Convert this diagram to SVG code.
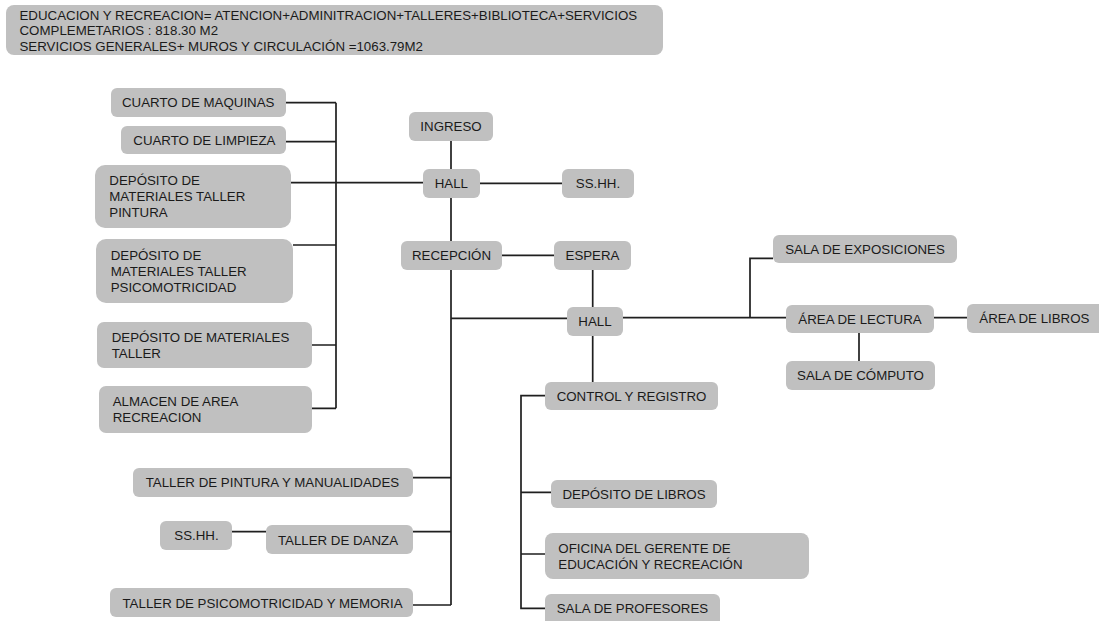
<svg xmlns="http://www.w3.org/2000/svg" width="1099" height="621" viewBox="0 0 1099 621">
<style>
.b{fill:#c0c0c0;stroke:none}
.t{font-family:"Liberation Sans",Arial,sans-serif;font-size:13.3px;fill:#1a1a1a}
.c{text-anchor:middle}
.ln{stroke:#1f1f1f;stroke-width:1.7;fill:none}
</style>
<rect width="1099" height="621" fill="#ffffff"/>
<g id="connectors">
<path class="ln" d="M286 102.7H336M286 141.7H336M293 245H336M312 345H336M312 408.3H336M336 102.7V408.3"/>
<path class="ln" d="M291 182.7H423"/>
<path class="ln" d="M451 141V605"/>
<path class="ln" d="M480 183.3H562"/>
<path class="ln" d="M502 255.3H554"/>
<path class="ln" d="M592.7 270V307"/>
<path class="ln" d="M451 318.3H567"/>
<path class="ln" d="M623 317.7H786M750 317.7V258.3H773"/>
<path class="ln" d="M934 317.7H967"/>
<path class="ln" d="M859 333V361"/>
<path class="ln" d="M592.7 336V382"/>
<path class="ln" d="M545 395.7H521V608.3H545M521 492.3H551M521 554H545"/>
<path class="ln" d="M413 477.7H451M413 531.7H451M413 605H451"/>
<path class="ln" d="M232 531.7H266"/>
</g>
<g id="header"><rect class="b" x="6" y="5" width="657" height="50" rx="8"/>
<text class="t" x="19.5" y="20">EDUCACION Y RECREACION= ATENCION+ADMINITRACION+TALLERES+BIBLIOTECA+SERVICIOS</text>
<text class="t" x="19.5" y="35.4">COMPLEMETARIOS : 818.30 M2</text>
<text class="t" x="19.5" y="50.6">SERVICIOS GENERALES+ MUROS Y CIRCULACIÓN =1063.79M2</text></g>
<g id="cuarto-maquinas"><rect class="b" x="111" y="88" width="175" height="29" rx="6"/><text class="t" x="122" y="107.3">CUARTO DE MAQUINAS</text></g>
<g id="cuarto-limpieza"><rect class="b" x="121" y="126" width="165" height="28" rx="6"/><text class="t" x="133.3" y="144.8">CUARTO DE LIMPIEZA</text></g>
<g id="deposito-pintura"><rect class="b" x="95" y="165" width="196" height="63" rx="10"/><text class="t" x="109.3" y="185.3">DEPÓSITO DE</text><text class="t" x="109.3" y="201.3">MATERIALES TALLER</text><text class="t" x="109.3" y="217.3">PINTURA</text></g>
<g id="deposito-psico"><rect class="b" x="96" y="239" width="197" height="64" rx="10"/><text class="t" x="110.7" y="259.8">DEPÓSITO DE</text><text class="t" x="110.7" y="275.8">MATERIALES TALLER</text><text class="t" x="110.7" y="291.8">PSICOMOTRICIDAD</text></g>
<g id="deposito-taller"><rect class="b" x="97" y="322" width="215" height="46" rx="7"/><text class="t" x="111.7" y="341.8">DEPÓSITO DE MATERIALES</text><text class="t" x="111.7" y="357.8">TALLER</text></g>
<g id="almacen"><rect class="b" x="99" y="386" width="213" height="47" rx="7"/><text class="t" x="112.7" y="406.3">ALMACEN DE AREA</text><text class="t" x="112.7" y="422.3">RECREACION</text></g>
<g id="ingreso"><rect class="b" x="409" y="112" width="84" height="29" rx="6"/><text class="t c" x="451" y="131.3">INGRESO</text></g>
<g id="hall1"><rect class="b" x="423" y="169" width="57" height="29" rx="6"/><text class="t c" x="451.3" y="188.3">HALL</text></g>
<g id="sshh1"><rect class="b" x="562" y="169" width="72" height="29" rx="6"/><text class="t c" x="598" y="188.3">SS.HH.</text></g>
<g id="recepcion"><rect class="b" x="401" y="241" width="101" height="29" rx="6"/><text class="t c" x="451.5" y="260.3">RECEPCIÓN</text></g>
<g id="espera"><rect class="b" x="554" y="241" width="77" height="29" rx="6"/><text class="t c" x="592.5" y="260.3">ESPERA</text></g>
<g id="hall2"><rect class="b" x="567" y="307" width="56" height="29" rx="6"/><text class="t c" x="595" y="326.3">HALL</text></g>
<g id="sala-exposiciones"><rect class="b" x="773" y="235" width="184" height="28" rx="6"/><text class="t c" x="865" y="253.8">SALA DE EXPOSICIONES</text></g>
<g id="area-lectura"><rect class="b" x="786" y="305" width="148" height="28" rx="6"/><text class="t c" x="860" y="323.8">ÁREA DE LECTURA</text></g>
<g id="area-libros"><rect class="b" x="967" y="304" width="140" height="29" rx="6"/><text class="t" x="979.3" y="322.7">ÁREA DE LIBROS</text></g>
<g id="sala-computo"><rect class="b" x="786" y="361" width="149" height="29" rx="6"/><text class="t c" x="860.5" y="380.3">SALA DE CÓMPUTO</text></g>
<g id="control-registro"><rect class="b" x="545" y="382" width="173" height="28" rx="6"/><text class="t c" x="631.5" y="400.8">CONTROL Y REGISTRO</text></g>
<g id="deposito-libros"><rect class="b" x="551" y="480" width="166" height="28" rx="6"/><text class="t c" x="634" y="498.8">DEPÓSITO DE LIBROS</text></g>
<g id="oficina-gerente"><rect class="b" x="545" y="533" width="264" height="46" rx="8"/><text class="t" x="558.3" y="552.8">OFICINA DEL GERENTE DE</text><text class="t" x="558.3" y="568.8">EDUCACIÓN Y RECREACIÓN</text></g>
<g id="sala-profesores"><rect class="b" x="545" y="594" width="175" height="34" rx="6"/><text class="t" x="556.7" y="613.3">SALA DE PROFESORES</text></g>
<g id="taller-pintura"><rect class="b" x="133" y="468" width="280" height="29" rx="6"/><text class="t" x="145.7" y="487.3">TALLER DE PINTURA Y MANUALIDADES</text></g>
<g id="sshh2"><rect class="b" x="160" y="521" width="72" height="29" rx="6"/><text class="t c" x="196.5" y="540">SS.HH.</text></g>
<g id="taller-danza"><rect class="b" x="266" y="525" width="147" height="29" rx="6"/><text class="t c" x="338" y="544.5">TALLER DE DANZA</text></g>
<g id="taller-psico"><rect class="b" x="110" y="588" width="303" height="29" rx="6"/><text class="t c" x="262.5" y="607.6">TALLER DE PSICOMOTRICIDAD Y MEMORIA</text></g>
</svg>
